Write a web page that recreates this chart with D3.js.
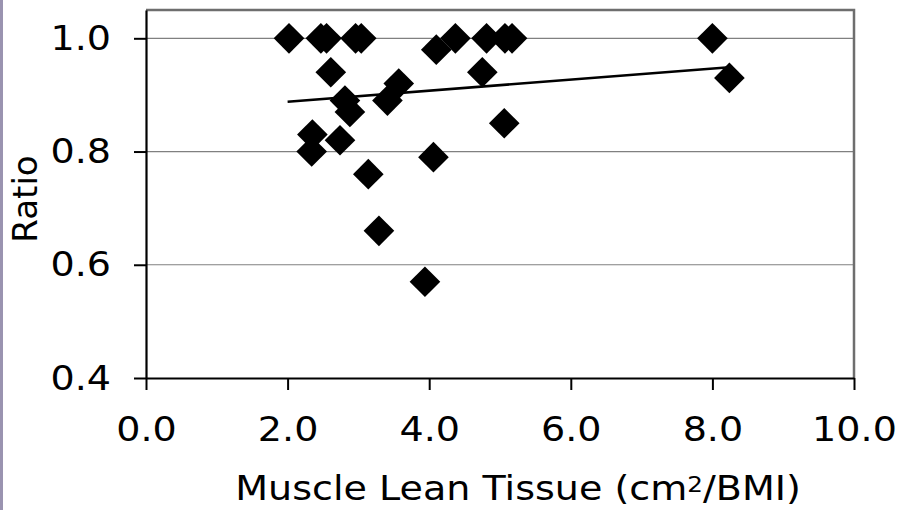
<!DOCTYPE html>
<html>
<head>
<meta charset="utf-8">
<script src="https://cdn.jsdelivr.net/npm/d3@7"></script>
<style>
    body { margin: 0; background: #fff; }
    text { font-family: "DejaVu Sans", Verdana, sans-serif; fill: #000; }
</style>
</head>
<body>
<svg id="canvas" width="900" height="510"></svg>
<script>
// values
let muscleLean = [2.02, 2.47, 2.55, 2.96, 3.04, 4.37, 4.81, 5.07, 5.17, 8.00,
                  4.10, 2.61, 4.75, 3.57, 2.81, 3.41, 2.88, 2.35, 2.34, 2.74,
                  5.06, 4.06, 3.14, 3.29, 3.94, 8.24];
let ratio = [1.00, 1.00, 1.00, 1.00, 1.00, 1.00, 1.00, 1.00, 1.00, 1.00,
             0.98, 0.94, 0.94, 0.92, 0.89, 0.89, 0.87, 0.83, 0.80, 0.82,
             0.85, 0.79, 0.76, 0.66, 0.57, 0.93];
let trendX = [2.0, 8.24];
let trendY = [0.888, 0.949];
let xTicks = [0, 2, 4, 6, 8, 10];
let yTicks = [0.4, 0.6, 0.8, 1.0];

let points = muscleLean.map((d, i) => ({ x: d, y: ratio[i] }));

let canvas = d3.select("#canvas");
let fontSize = 34;
let sx = 1.12; // glyphs in the picture are a bit wider than DejaVu

let plotLeft = 146, plotRight = 854, plotTop = 10, plotBottom = 378;

let xScale = d3.scaleLinear().domain([0, 10]).range([plotLeft, plotRight]);
let yScale = d3.scaleLinear().domain([0.4, 1.05]).range([plotBottom, plotTop]);

// purple strip on the left edge
canvas.append("rect")
    .attr("x", 0).attr("y", 0)
    .attr("width", 3).attr("height", 510)
    .attr("fill", "#9a93b0");

// gridlines
canvas.append("g")
    .selectAll("line")
    .data(yTicks.filter(d => d > 0.4))
    .enter()
    .append("line")
    .attr("x1", plotLeft).attr("x2", plotRight)
    .attr("y1", d => yScale(d)).attr("y2", d => yScale(d))
    .attr("stroke", "#808080")
    .attr("stroke-width", 1.2);

// top and right frame
canvas.append("path")
    .attr("d", `M${plotLeft},${plotTop}H${plotRight}V${plotBottom}`)
    .attr("fill", "none")
    .attr("stroke", "#6e6e6e")
    .attr("stroke-width", 2.5);

// axes
let xAxis = d3.axisBottom(xScale)
    .tickValues(xTicks)
    .tickFormat(d3.format(".1f"))
    .tickSize(12)
    .tickSizeOuter(0);

let yAxis = d3.axisLeft(yScale)
    .tickValues(yTicks)
    .tickFormat(d3.format(".1f"))
    .tickSize(12)
    .tickSizeOuter(0);

let gx = canvas.append("g")
    .attr("transform", `translate(0,${plotBottom})`)
    .call(xAxis);

let gy = canvas.append("g")
    .attr("transform", `translate(${plotLeft},0)`)
    .call(yAxis);

[gx, gy].forEach(g => {
    g.select(".domain").attr("stroke", "#000").attr("stroke-width", 2.2);
    g.selectAll(".tick line").attr("stroke", "#000").attr("stroke-width", 2);
    g.selectAll("text")
        .attr("font-family", "DejaVu Sans, Verdana, sans-serif")
        .attr("font-size", fontSize)
        .attr("fill", "#000");
});

gx.selectAll("text")
    .attr("y", 0).attr("dy", 0)
    .attr("transform", `translate(0,63) scale(${sx},1)`);

gy.selectAll("text")
    .attr("x", 0).attr("dy", "0.33em")
    .attr("transform", `translate(-35,0) scale(${sx},1)`);

// trend line
canvas.append("line")
    .attr("x1", xScale(trendX[0])).attr("y1", yScale(trendY[0]))
    .attr("x2", xScale(trendX[1])).attr("y2", yScale(trendY[1]))
    .attr("stroke", "#000")
    .attr("stroke-width", 2.6);

// diamonds
let diamond = d3.symbol().type(d3.symbolSquare).size(470);

canvas.append("g")
    .selectAll("path")
    .data(points)
    .enter()
    .append("path")
    .attr("d", diamond)
    .attr("transform", d => `translate(${xScale(d.x)},${yScale(d.y)}) rotate(45)`)
    .attr("fill", "#000");

// axis titles
let xTitle = canvas.append("text")
    .attr("transform", `translate(518,500) scale(${sx},1)`)
    .attr("text-anchor", "middle")
    .attr("font-size", fontSize);
xTitle.append("tspan").text("Muscle Lean Tissue (cm");
xTitle.append("tspan").attr("font-size", 22).attr("dy", -8).text("2");
xTitle.append("tspan").attr("dy", 8).text("/BMI)");

canvas.append("text")
    .attr("transform", "translate(37,199) rotate(-90)")
    .attr("text-anchor", "middle")
    .attr("font-size", fontSize)
    .text("Ratio");
</script>
</body>
</html>
